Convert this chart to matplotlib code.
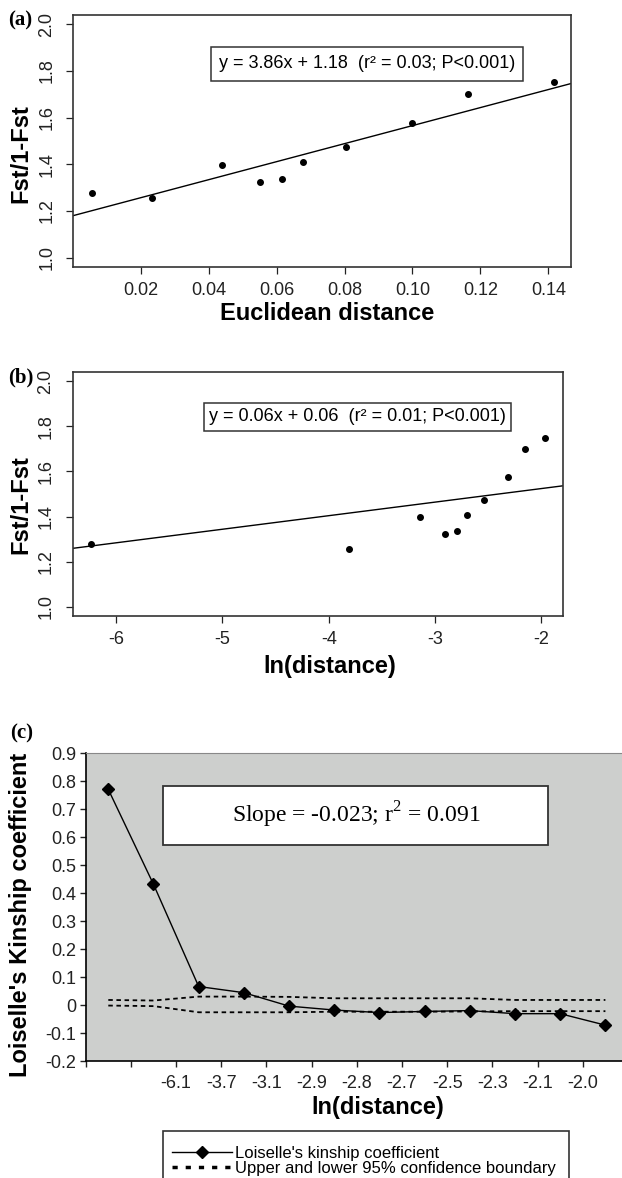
import numpy as np
import matplotlib
matplotlib.use("Agg")
import matplotlib.pyplot as plt
from matplotlib.lines import Line2D
from matplotlib.patches import Rectangle
from matplotlib.ticker import FormatStrFormatter

plt.rcParams['font.family'] = ['Liberation Sans', 'DejaVu Sans']
plt.rcParams['axes.unicode_minus'] = False
plt.rcParams['mathtext.fontset'] = 'custom'
plt.rcParams['mathtext.rm'] = 'Liberation Serif'

# Panel (a): Fst/(1-Fst) vs Euclidean distance
eucl_dist = [0.0056, 0.0232, 0.0438, 0.0552, 0.0615, 0.0676, 0.0805, 0.1000, 0.1165, 0.1416]
fst_ratio = [1.279, 1.257, 1.399, 1.323, 1.339, 1.409, 1.476, 1.579, 1.701, 1.751]
fit_a = (3.86, 1.18)  # slope, intercept

# Panel (b): same values vs ln(distance)
ln_dist = [-6.235, -3.806, -3.142, -2.910, -2.795, -2.702, -2.534, -2.317, -2.157, -1.963]
fst_ratio_b = [1.278, 1.258, 1.399, 1.323, 1.337, 1.409, 1.475, 1.577, 1.700, 1.750]
fit_b = (0.06, 1.644)  # line as drawn

# Panel (c): Loiselle's kinship coefficient per distance class
kinship = [0.77, 0.431, 0.066, 0.044, -0.004, -0.018, -0.027, -0.023, -0.020, -0.031, -0.031, -0.072]
ci_upper = [0.018, 0.016, 0.030, 0.030, 0.029, 0.024, 0.024, 0.024, 0.024, 0.018, 0.018, 0.018]
ci_lower = [-0.002, -0.004, -0.026, -0.026, -0.026, -0.024, -0.024, -0.024, -0.023, -0.022, -0.022, -0.022]
class_labels = ['', '', '-6.1', '-3.7', '-3.1', '-2.9', '-2.8', '-2.7', '-2.5', '-2.3', '-2.1', '-2.0', '']
y_ticks_c = [0.9, 0.8, 0.7, 0.6, 0.5, 0.4, 0.3, 0.2, 0.1, 0.0, -0.1, -0.2]
y_labels_c = ['0.9', '0.8', '0.7', '0.6', '0.5', '0.4', '0.3', '0.2', '0.1', '0', '-0.1', '-0.2']

W, H = 622, 1178
fig = plt.figure(figsize=(W / 100, H / 100), dpi=100)


def fig_rect(left, top, right, bottom):
    return [left / W, 1 - bottom / H, (right - left) / W, (bottom - top) / H]


def style_r_axes(ax):
    for s in ax.spines.values():
        s.set_color('#333333')
        s.set_linewidth(1.2)
    ax.tick_params(direction='out', length=5, width=0.9, labelsize=13, colors='#222222')
    ax.tick_params(axis='x', pad=6)
    ax.tick_params(axis='y', pad=8, labelrotation=90)
    for lab in ax.get_yticklabels():
        lab.set_va('center')
    ax.set_ylim(0.96, 2.04)
    ax.set_yticks([1.0, 1.2, 1.4, 1.6, 1.8, 2.0])
    ax.yaxis.set_major_formatter(FormatStrFormatter('%.1f'))


# ---- (a)
ax1 = fig.add_axes(fig_rect(73.4, 15, 571, 267))
ax1.plot(eucl_dist, fst_ratio, 'o', color='black', markersize=4)
ax1.axline((0, fit_a[1]), slope=fit_a[0], color='black', lw=1)
ax1.set_xlim(0.0001, 0.1467)
ax1.set_xticks([0.02, 0.04, 0.06, 0.08, 0.10, 0.12, 0.14])
ax1.xaxis.set_major_formatter(FormatStrFormatter('%.2f'))
style_r_axes(ax1)
ax1.set_xlabel('Euclidean distance', fontsize=17, fontweight='bold')
ax1.xaxis.set_label_coords(0.51, -0.14)
ax1.set_ylabel('Fst/1-Fst', fontsize=17, fontweight='bold')
ax1.yaxis.set_label_coords(-0.083, 0.45)
ax1.text(0.59, 0.806, 'y = 3.86x + 1.18  (r\u00b2 = 0.03; P<0.001)', transform=ax1.transAxes,
         ha='center', va='center', fontsize=13,
         bbox=dict(boxstyle='square,pad=0.45', facecolor='white', edgecolor='#333333', lw=1.1))

# ---- (b)
ax2 = fig.add_axes(fig_rect(72.6, 372, 563, 616))
ax2.plot(ln_dist, fst_ratio_b, 'o', color='black', markersize=4)
ax2.axline((0, fit_b[1]), slope=fit_b[0], color='black', lw=1)
ax2.set_xlim(-6.41, -1.795)
ax2.set_xticks([-6, -5, -4, -3, -2])
style_r_axes(ax2)
ax2.set_xlabel('ln(distance)', fontsize=17, fontweight='bold')
ax2.xaxis.set_label_coords(0.525, -0.16)
ax2.set_ylabel('Fst/1-Fst', fontsize=17, fontweight='bold')
ax2.yaxis.set_label_coords(-0.083, 0.455)
ax2.text(0.581, 0.816, 'y = 0.06x + 0.06  (r\u00b2 = 0.01; P<0.001)', transform=ax2.transAxes,
         ha='center', va='center', fontsize=13,
         bbox=dict(boxstyle='square,pad=0.3', facecolor='white', edgecolor='#333333', lw=1.1))

# ---- (c)
ax3 = fig.add_axes(fig_rect(85.7, 753, 628, 1061))
ax3.set_facecolor('#cdcfcd')
xpos = np.arange(len(kinship)) + 0.5
ax3.plot(xpos, ci_upper, color='black', lw=1.3, linestyle=(0, (2.5, 2)))
ax3.plot(xpos, ci_lower, color='black', lw=1.3, linestyle=(0, (2.5, 2)))
ax3.plot(xpos, kinship, color='black', lw=1, marker='D', markersize=6.5)
ax3.set_xlim(0, 12)
ax3.set_ylim(-0.2, 0.9)
ax3.set_xticks(np.arange(len(class_labels)))
ax3.set_xticklabels(class_labels)
ax3.set_yticks(y_ticks_c)
ax3.set_yticklabels(y_labels_c)
ax3.spines['top'].set_color('#888888')
ax3.spines['right'].set_visible(False)
ax3.spines['left'].set_linewidth(1.2)
ax3.spines['bottom'].set_linewidth(1.2)
ax3.tick_params(direction='out', length=4, width=1, labelsize=13, colors='#222222')
ax3.tick_params(axis='x', pad=6)
ax3.tick_params(axis='y', pad=3)
ax3.set_xlabel('ln(distance)', fontsize=17, fontweight='bold')
ax3.xaxis.set_label_coords(0.539, -0.115)
ax3.set_ylabel("Loiselle's Kinship coefficient", fontsize=17, fontweight='bold')
ax3.yaxis.set_label_coords(-0.099, 0.476)
ax3.add_patch(Rectangle((0.1418, 0.7013), 0.710, 0.1925, transform=ax3.transAxes,
                        facecolor='white', edgecolor='#333333', lw=1.3, zorder=3))
ax3.text(0.498, 0.7976, r'Slope = -0.023; r$^\mathrm{2}$ = 0.091', transform=ax3.transAxes,
         ha='center', va='center', fontsize=17, family='Liberation Serif', zorder=4)

# legend box (cut by the bottom edge)
fig.add_artist(Rectangle((162.7 / W, -0.02), (569 - 162.7) / W, 0.02 + 1 - 1130.7 / H,
                         transform=fig.transFigure, facecolor='white', edgecolor='#333333', lw=1.2))
handles = [Line2D([], [], color='black', lw=1, marker='D', markersize=6.5),
           Line2D([], [], color='black', lw=2.5, linestyle=(0, (1.5, 2.3)))]
fig.legend(handles, ["Loiselle's kinship coefficient", 'Upper and lower 95% confidence boundary'],
           loc='upper left', bbox_to_anchor=(172 / W, 1 - 1146 / H), frameon=False,
           fontsize=12, borderpad=0, borderaxespad=0, handlelength=3.6,
           handletextpad=0.2, labelspacing=0.0)

# panel letters
fig.text(8 / W, 1 - 20 / H, '(a)', fontsize=15, fontweight='bold', family='Liberation Serif', va='center')
fig.text(8 / W, 1 - 377.5 / H, '(b)', fontsize=15, fontweight='bold', family='Liberation Serif', va='center')
fig.text(10 / W, 1 - 733 / H, '(c)', fontsize=15, fontweight='bold', family='Liberation Serif', va='center')

fig.savefig('out.png', dpi=100)
